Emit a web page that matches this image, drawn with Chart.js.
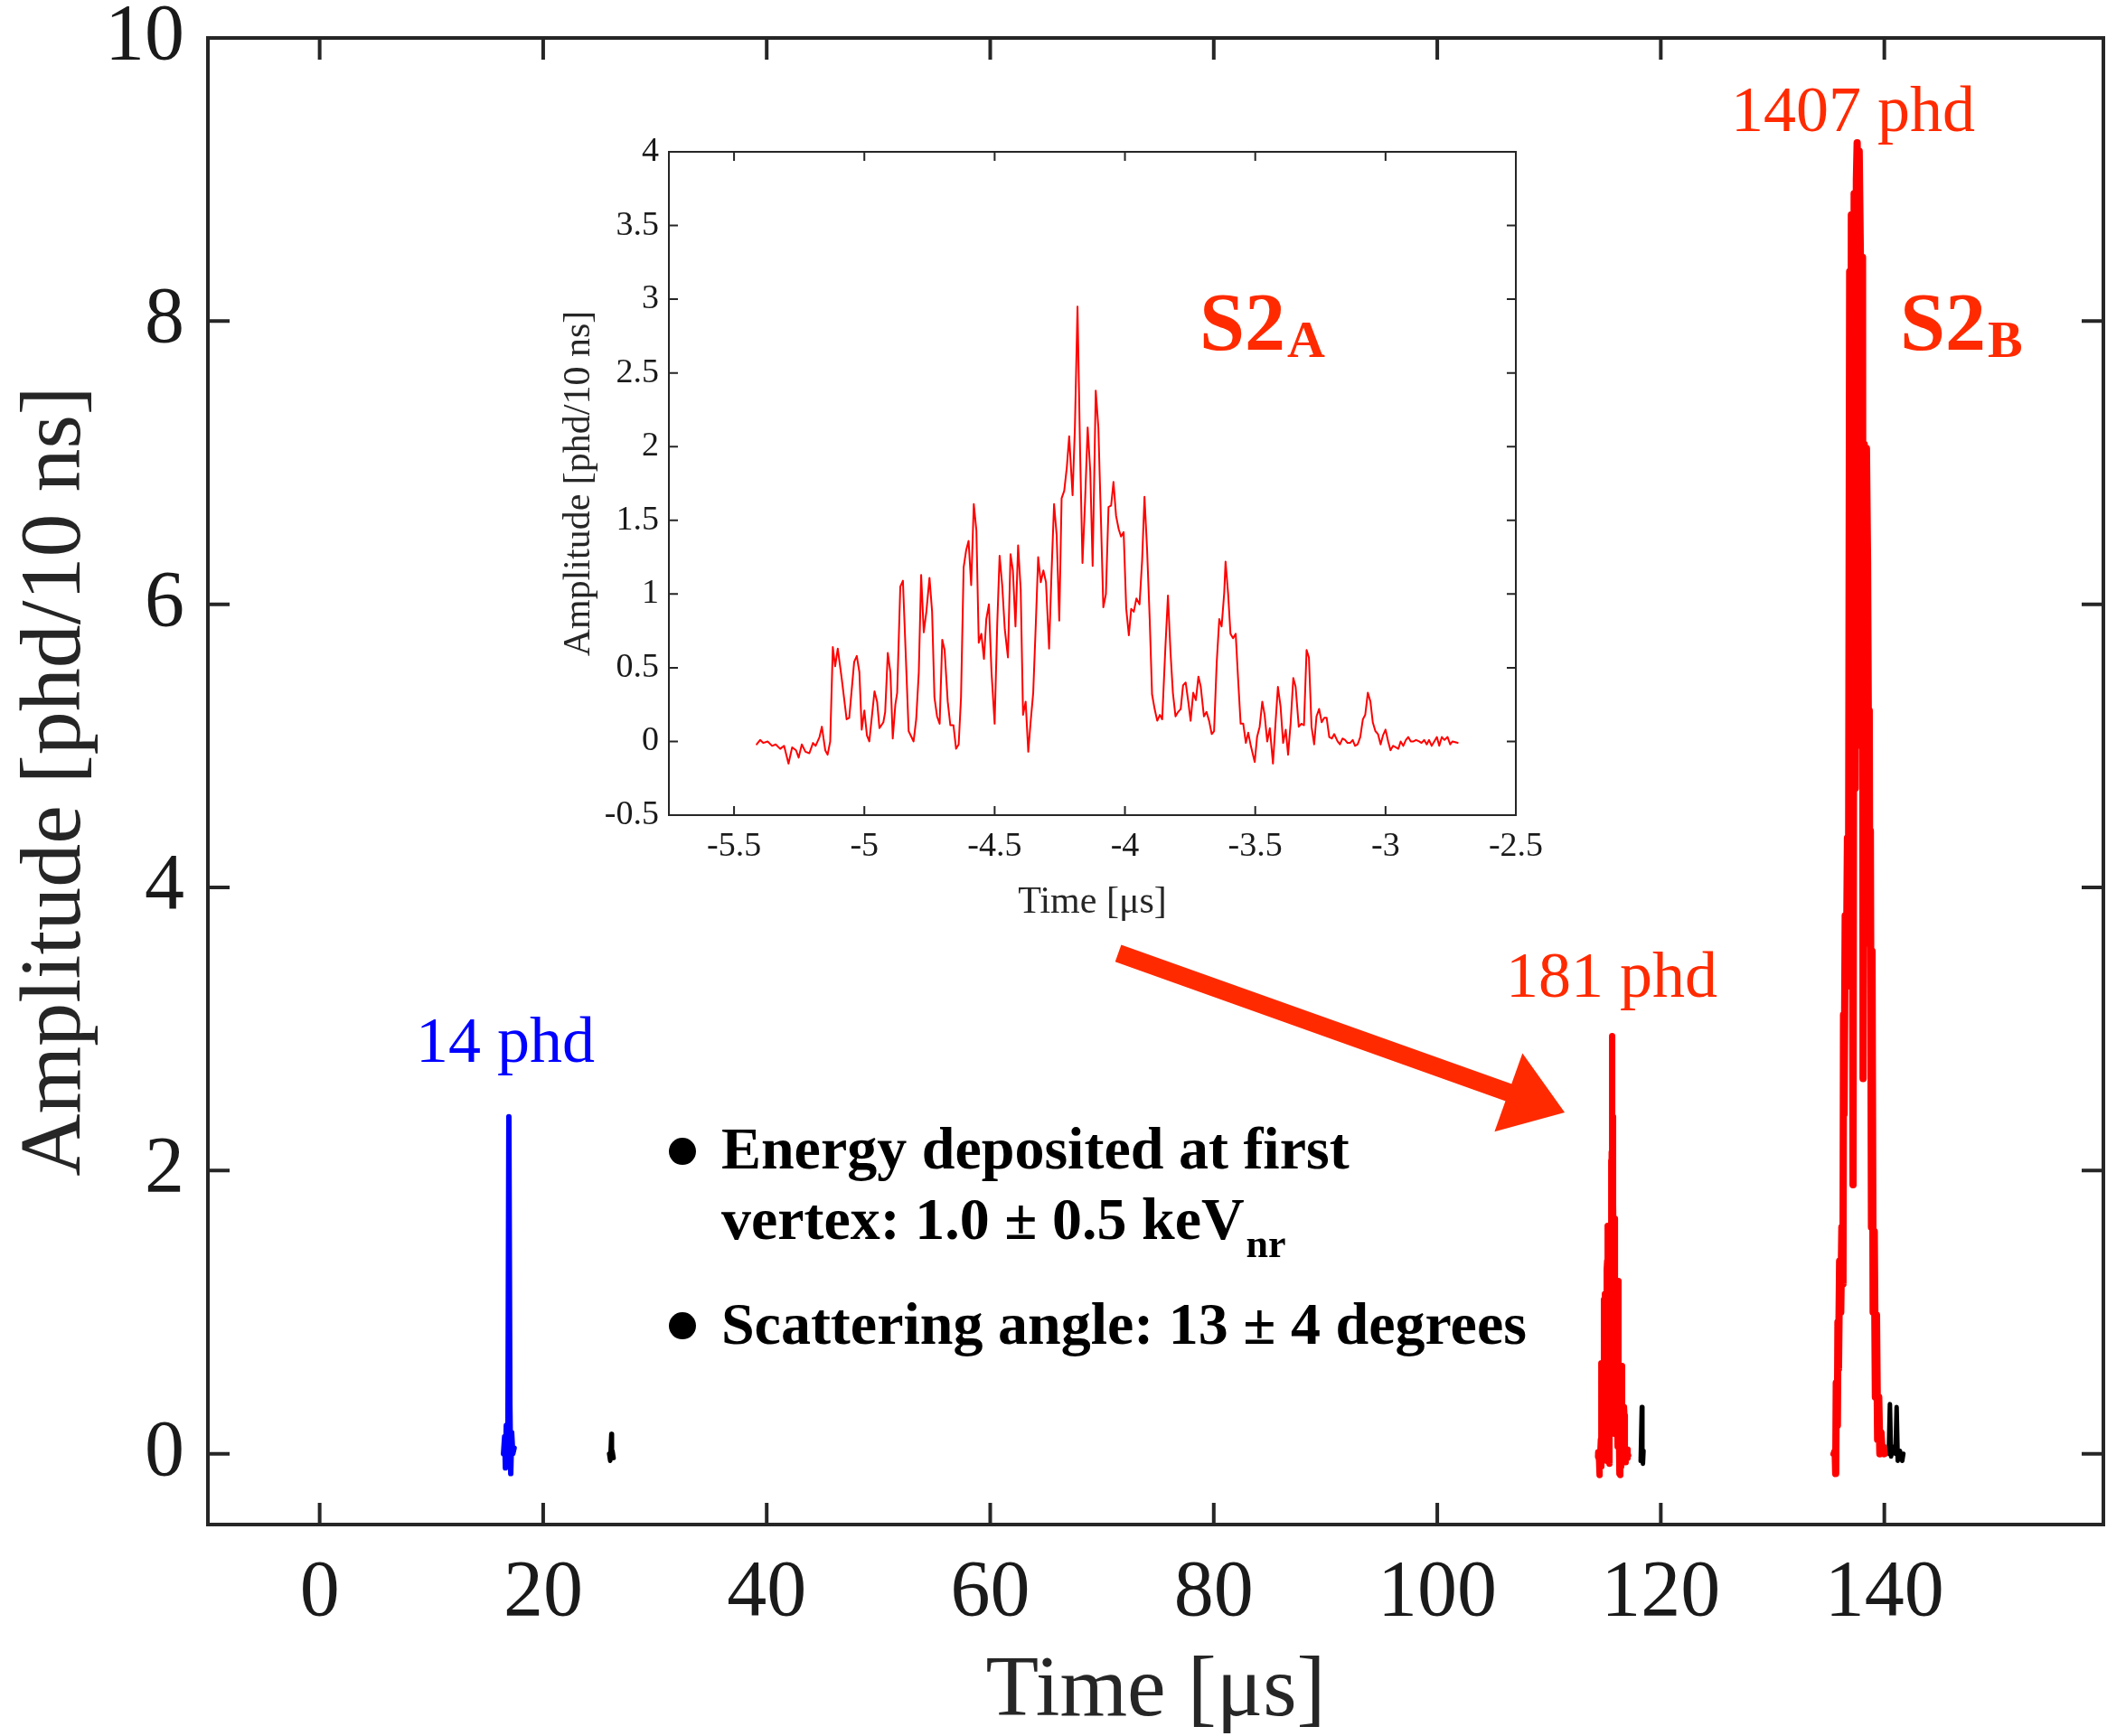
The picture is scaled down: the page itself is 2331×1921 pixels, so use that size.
<!DOCTYPE html>
<html lang="en">
<head>
<meta charset="UTF-8">
<title>S2 waveforms</title>
<script src="https://cdn.jsdelivr.net/npm/chart.js"></script>
<style>
  body { margin: 0; background: #fff; }
  #wrap { position: relative; width: 2331px; height: 1921px; }
  #insetChart { position: absolute; left: 600px; top: 140px; }
</style>
</head>
<body>
<div id="wrap">
  <canvas id="mainChart" width="2331" height="1921"></canvas>
  <canvas id="insetChart" width="1150" height="880"></canvas>
</div>
<script>
// ---- data ----
// inset: S2A waveform, time in us, amplitude in phd/10 ns
const insetTime = [-5.413,-5.400,-5.388,-5.371,-5.354,-5.340,-5.323,-5.308,-5.291,-5.277,-5.262,-5.252,-5.240,-5.226,-5.211,-5.197,-5.187,-5.172,-5.163,-5.150,
  -5.141,-5.131,-5.121,-5.112,-5.102,-5.087,-5.068,-5.058,-5.039,-5.029,-5.019,-5.010,-5.000,-4.990,-4.981,-4.961,-4.951,-4.942,-4.927,-4.920,
  -4.910,-4.900,-4.891,-4.881,-4.874,-4.862,-4.852,-4.842,-4.830,-4.811,-4.801,-4.791,-4.782,-4.772,-4.762,-4.750,-4.740,-4.731,-4.721,-4.711,
  -4.701,-4.692,-4.680,-4.670,-4.658,-4.648,-4.638,-4.629,-4.619,-4.609,-4.600,-4.590,-4.580,-4.570,-4.561,-4.551,-4.541,-4.532,-4.522,-4.512,
  -4.500,-4.490,-4.481,-4.471,-4.461,-4.449,-4.439,-4.430,-4.420,-4.410,-4.400,-4.391,-4.381,-4.371,-4.362,-4.352,-4.342,-4.333,-4.323,-4.313,
  -4.303,-4.291,-4.282,-4.272,-4.262,-4.252,-4.243,-4.233,-4.223,-4.214,-4.201,-4.192,-4.182,-4.172,-4.163,-4.153,-4.143,-4.133,-4.124,-4.112,
  -4.102,-4.092,-4.083,-4.073,-4.063,-4.053,-4.044,-4.034,-4.024,-4.015,-4.005,-3.995,-3.985,-3.976,-3.966,-3.956,-3.944,-3.934,-3.925,-3.915,
  -3.905,-3.896,-3.886,-3.876,-3.866,-3.857,-3.845,-3.835,-3.825,-3.816,-3.806,-3.796,-3.786,-3.777,-3.767,-3.757,-3.748,-3.738,-3.728,-3.718,
  -3.709,-3.697,-3.687,-3.677,-3.667,-3.658,-3.648,-3.638,-3.629,-3.619,-3.614,-3.604,-3.595,-3.585,-3.575,-3.566,-3.556,-3.546,-3.536,-3.527,
  -3.517,-3.502,-3.493,-3.483,-3.473,-3.464,-3.454,-3.444,-3.432,-3.422,-3.413,-3.403,-3.393,-3.383,-3.374,-3.364,-3.354,-3.345,-3.333,-3.323,
  -3.313,-3.303,-3.294,-3.284,-3.274,-3.265,-3.255,-3.245,-3.235,-3.226,-3.216,-3.206,-3.197,-3.184,-3.175,-3.165,-3.155,-3.146,-3.136,-3.126,
  -3.117,-3.107,-3.097,-3.087,-3.078,-3.068,-3.058,-3.049,-3.039,-3.029,-3.019,-3.010,-3.000,-2.990,-2.981,-2.971,-2.961,-2.951,-2.942,-2.932,
  -2.922,-2.913,-2.903,-2.893,-2.883,-2.871,-2.862,-2.852,-2.842,-2.833,-2.823,-2.813,-2.803,-2.794,-2.784,-2.774,-2.762,-2.752,-2.743,-2.723];
const insetAmp = [-0.02,0.01,-0.01,0.00,-0.03,-0.02,-0.05,-0.03,-0.15,-0.04,-0.06,-0.11,-0.02,-0.07,-0.08,-0.01,-0.03,0.03,0.10,-0.06,
  -0.09,0.00,0.64,0.51,0.63,0.43,0.15,0.16,0.54,0.58,0.47,0.08,0.21,0.04,0.00,0.34,0.27,0.09,0.13,0.20,
  0.60,0.47,0.02,0.25,0.33,1.05,1.09,0.63,0.07,0.00,0.15,0.47,1.13,0.74,0.88,1.11,0.88,0.30,0.17,0.12,
  0.69,0.62,0.27,0.11,0.11,-0.05,-0.02,0.30,1.18,1.30,1.36,1.06,1.61,1.43,0.67,0.73,0.56,0.83,0.93,0.47,
  0.12,0.80,1.26,1.06,0.76,0.57,1.27,1.16,0.78,1.33,1.03,0.18,0.27,-0.07,0.13,0.33,0.80,1.25,1.08,1.16,
  1.08,0.63,1.13,1.61,1.40,0.82,1.65,1.70,1.86,2.07,1.67,2.13,2.95,1.96,1.21,1.63,2.13,1.83,1.19,2.38,
  2.13,1.50,0.91,1.00,1.59,1.60,1.76,1.53,1.44,1.39,1.42,0.90,0.72,0.90,0.88,0.97,0.93,1.23,1.66,1.30,
  0.83,0.32,0.22,0.14,0.18,0.15,0.63,0.99,0.60,0.33,0.17,0.20,0.22,0.38,0.40,0.27,0.14,0.33,0.28,0.44,
  0.37,0.17,0.20,0.14,0.05,0.07,0.53,0.83,0.78,1.01,1.22,1.00,0.73,0.70,0.73,0.43,0.12,0.12,-0.01,0.06,
  -0.03,-0.14,0.03,0.10,0.27,0.18,0.00,0.09,-0.15,0.13,0.37,0.24,-0.01,0.08,-0.09,0.13,0.43,0.37,0.10,0.12,
  0.11,0.62,0.57,0.10,-0.02,0.17,0.22,0.13,0.16,0.16,0.03,0.02,0.05,0.00,-0.02,0.02,0.01,-0.01,-0.01,0.01,
  -0.03,-0.02,0.03,0.15,0.18,0.33,0.27,0.13,0.07,0.05,-0.02,0.04,0.08,0.00,-0.06,-0.03,-0.04,-0.05,0.00,-0.03,
  0.01,0.03,0.00,0.00,0.01,0.00,-0.01,0.01,-0.02,0.01,-0.03,0.00,0.03,-0.03,0.03,0.01,0.03,-0.02,0.00,-0.01];
// the same S2A pulse sits at this time in the full trace
const s2aOffset = 119.8;

// S1 pulse (blue)
const s1Time = [16.45,16.55,16.62,16.7,16.78,16.85,16.93,17.02,17.1,17.18,17.28,17.4];
const s1Amp  = [0.00,0.12,-0.10,0.20,0.05,0.25,2.38,0.35,-0.14,0.15,0.00,0.04];

// S2B pulse (red)
const s2bTime = [135.5,135.6,135.65,135.7,135.8,135.85,135.9,136.0,136.1,136.2,136.3,136.35,136.4,136.5,136.6,136.7,136.8,136.9,137.0,137.05,
  137.1,137.2,137.3,137.4,137.5,137.57,137.65,137.75,137.85,137.95,138.05,138.1,138.2,138.3,138.4,138.5,138.6,138.65,138.7,138.75,
  138.85,138.9,139.0,139.1,139.2,139.3,139.4,139.5,139.6,139.7,139.8,139.9,140.0];
const s2bAmp  = [0.00,0.02,-0.14,0.50,0.20,0.93,0.60,1.36,1.00,1.60,1.20,3.10,2.40,3.80,3.30,4.35,4.00,8.35,4.80,8.75,
  6.50,1.90,8.90,4.70,9.00,9.26,7.00,9.20,8.50,5.00,8.45,2.65,7.13,4.50,7.10,6.30,4.60,5.25,3.60,4.40,
  1.60,3.55,1.00,1.57,0.40,0.98,0.10,0.40,0.00,0.15,0.02,0.05,0.00];

// small black pulses (gaps between them)
const otherTime = [25.9,26.0,26.1,26.15,26.2,26.3, null, 118.2,118.3,118.35,118.4,118.45, null, 140.4,140.5,140.6,140.8,141.0,141.1,141.2,141.4,141.6,141.7];
const otherAmp  = [0.00,-0.05,0.14,0.00,0.02,-0.03, null, -0.05,0.33,0.00,-0.07,0.02, null, 0.00,0.35,-0.02,0.05,0.00,0.33,-0.05,0.02,-0.05,0.00];

const mainXTicks = [0, 20, 40, 60, 80, 100, 120, 140];
const mainYTicks = [0, 2, 4, 6, 8, 10];
const insetXTicks = [-5.5, -5, -4.5, -4, -3.5, -3, -2.5];
const insetYTicks = [-0.5, 0, 0.5, 1, 1.5, 2, 2.5, 3, 3.5, 4];

// ---- helpers ----
const SERIF = '"Liberation Serif", "Times New Roman", serif';
const AXIS = '#262626';
const LABEL_RED = '#ff2a00';
Chart.defaults.font.family = SERIF;

function pts(xs, ys, dx = 0) {
  return xs.map((x, i) => ({ x: x === null ? null : x + dx, y: ys[i] }));
}

// MATLAB-style box with inward ticks on all four sides
const boxTicks = {
  id: 'boxTicks',
  afterDraw(chart, args, opts) {
    const { ctx, chartArea: a, scales: { x, y } } = chart;
    ctx.save();
    ctx.strokeStyle = AXIS;
    ctx.lineWidth = opts.width;
    ctx.beginPath();
    x.ticks.forEach(t => {
      const px = x.getPixelForValue(t.value);
      ctx.moveTo(px, a.bottom); ctx.lineTo(px, a.bottom - opts.len);
      ctx.moveTo(px, a.top); ctx.lineTo(px, a.top + opts.len);
    });
    y.ticks.forEach(t => {
      const py = y.getPixelForValue(t.value);
      ctx.moveTo(a.left, py); ctx.lineTo(a.left + opts.len, py);
      ctx.moveTo(a.right, py); ctx.lineTo(a.right - opts.len, py);
    });
    ctx.stroke();
    ctx.strokeRect(a.left, a.top, a.right - a.left, a.bottom - a.top);
    ctx.restore();
  }
};

// text with a subscript tail
function subText(ctx, x, y, main, sub, mainFont, subFont, drop) {
  ctx.font = mainFont;
  ctx.fillText(main, x, y);
  const w = ctx.measureText(main).width;
  ctx.font = subFont;
  ctx.fillText(sub, x + w + 2, y + drop);
}

const mainNotes = {
  id: 'mainNotes',
  afterDatasetsDraw(chart) {
    const { ctx, scales: { x, y } } = chart;
    const X = v => x.getPixelForValue(v), Y = v => y.getPixelForValue(v);
    ctx.save();
    ctx.textBaseline = 'alphabetic';

    // peak labels
    ctx.textAlign = 'center';
    ctx.font = '72px ' + SERIF;
    ctx.fillStyle = '#0000ff';
    ctx.fillText('14 phd', X(16.6), Y(2.77));
    ctx.fillStyle = LABEL_RED;
    ctx.fillText('181 phd', X(115.6), Y(3.23));
    ctx.fillText('1407 phd', X(137.2), Y(9.34));

    ctx.textAlign = 'left';
    subText(ctx, X(141.4), Y(7.8), 'S2', 'B', 'bold 90px ' + SERIF, 'bold 58px ' + SERIF, 8);

    // arrow from the inset to S2A
    const x0 = X(71.45), y0 = Y(3.535), x1 = X(111.4), y1 = Y(2.41);
    const len = Math.hypot(x1 - x0, y1 - y0), ux = (x1 - x0) / len, uy = (y1 - y0) / len;
    const hl = 66, hw = 46;
    const bx = x1 - ux * hl, by = y1 - uy * hl;
    ctx.strokeStyle = LABEL_RED;
    ctx.lineWidth = 20;
    ctx.beginPath(); ctx.moveTo(x0, y0); ctx.lineTo(bx + ux * 4, by + uy * 4); ctx.stroke();
    ctx.beginPath();
    ctx.moveTo(x1, y1);
    ctx.lineTo(bx - uy * hw, by + ux * hw);
    ctx.lineTo(bx + uy * hw, by - ux * hw);
    ctx.closePath(); ctx.fill();

    // bullet notes
    ctx.fillStyle = '#000';
    ctx.beginPath(); ctx.arc(X(32.46), Y(2.136), 15, 0, 2 * Math.PI); ctx.fill();
    ctx.beginPath(); ctx.arc(X(32.46), Y(0.904), 15, 0, 2 * Math.PI); ctx.fill();
    ctx.font = 'bold 66px ' + SERIF;
    ctx.fillText('Energy deposited at first', X(35.93), Y(2.015));
    subText(ctx, X(35.93), Y(1.517), 'vertex: 1.0 \u00b1 0.5 keV', 'nr', 'bold 66px ' + SERIF, 'bold 44px ' + SERIF, 20);
    ctx.font = 'bold 66px ' + SERIF;
    ctx.fillText('Scattering angle: 13 \u00b1 4 degrees', X(35.93), Y(0.776));
    ctx.restore();
  }
};

const insetNotes = {
  id: 'insetNotes',
  afterDatasetsDraw(chart) {
    const { ctx, scales: { x, y } } = chart;
    ctx.save();
    ctx.fillStyle = LABEL_RED;
    ctx.textBaseline = 'alphabetic';
    subText(ctx, x.getPixelForValue(-3.714), y.getPixelForValue(2.66), 'S2', 'A',
      'bold 90px ' + SERIF, 'bold 58px ' + SERIF, 8);
    ctx.restore();
  }
};

function lineSet(data, color, width) {
  return { data, borderColor: color, borderWidth: width, pointRadius: 0,
    borderJoinStyle: 'round', borderCapStyle: 'round', tension: 0, spanGaps: false, fill: false };
}

// fixed axis sizes, no extra room for overhanging labels
const fixX = h => s => { s.height = h; s.paddingLeft = 0; s.paddingRight = 0; };
const fixY = w => s => { s.width = w; s.paddingTop = 0; s.paddingBottom = 0; };

// ---- main chart ----
new Chart(document.getElementById('mainChart'), {
  type: 'line',
  data: {
    datasets: [
      lineSet(pts(insetTime, insetAmp, s2aOffset), '#ff0000', 7),
      lineSet(pts(s2bTime, s2bAmp), '#ff0000', 8),
      lineSet(pts(otherTime, otherAmp), '#000000', 5),
      lineSet(pts(s1Time, s1Amp), '#0000ff', 6)
    ]
  },
  options: {
    responsive: false,
    animation: false,
    devicePixelRatio: 1,
    layout: { padding: { top: 42, right: 4, left: 0, bottom: 0 } },
    plugins: { legend: { display: false }, tooltip: { enabled: false },
      boxTicks: { width: 4, len: 24 } },
    scales: {
      x: {
        type: 'linear', min: -10, max: 159.6,
        afterBuildTicks: s => { s.ticks = mainXTicks.map(v => ({ value: v })); },
        afterFit: fixX(234),
        grid: { display: false, drawTicks: false }, border: { display: false },
        ticks: { color: '#1a1a1a', font: { size: 88 }, padding: 24, maxRotation: 0,
          callback: v => String(v) },
        title: { display: true, text: 'Time [\u03bcs]', color: AXIS,
          font: { size: 96, lineHeight: 1 }, padding: { top: 0, bottom: 0 } }
      },
      y: {
        type: 'linear', min: -0.5, max: 10,
        afterBuildTicks: s => { s.ticks = mainYTicks.map(v => ({ value: v })); },
        afterFit: fixY(230),
        grid: { display: false, drawTicks: false }, border: { display: false },
        ticks: { color: '#1a1a1a', font: { size: 88 }, padding: 26, callback: v => String(v) },
        title: { display: true, text: 'Amplitude [phd/10 ns]', color: AXIS,
          font: { size: 96, lineHeight: 1 }, padding: { top: 15, bottom: 0 } }
      }
    }
  },
  plugins: [boxTicks, mainNotes]
});

// ---- inset chart ----
new Chart(document.getElementById('insetChart'), {
  type: 'line',
  data: { datasets: [lineSet(pts(insetTime, insetAmp), '#ff0000', 2)] },
  options: {
    responsive: false,
    animation: false,
    devicePixelRatio: 1,
    layout: { padding: { top: 28, right: 73, left: 0, bottom: 0 } },
    plugins: { legend: { display: false }, tooltip: { enabled: false },
      boxTicks: { width: 2, len: 10 } },
    scales: {
      x: {
        type: 'linear', min: -5.75, max: -2.5,
        afterBuildTicks: s => { s.ticks = insetXTicks.map(v => ({ value: v })); },
        afterFit: fixX(118),
        grid: { display: false, drawTicks: false }, border: { display: false },
        ticks: { color: '#1a1a1a', font: { size: 38 }, padding: 12, maxRotation: 0,
          callback: v => String(v) },
        title: { display: true, text: 'Time [\u03bcs]', color: AXIS,
          font: { size: 42, lineHeight: 1 }, padding: { top: 13, bottom: 0 } }
      },
      y: {
        type: 'linear', min: -0.5, max: 4,
        afterBuildTicks: s => { s.ticks = insetYTicks.map(v => ({ value: v })); },
        afterFit: fixY(140),
        grid: { display: false, drawTicks: false }, border: { display: false },
        ticks: { color: '#1a1a1a', font: { size: 38 }, padding: 11, callback: v => String(v) },
        title: { display: true, text: 'Amplitude [phd/10 ns]', color: AXIS,
          font: { size: 42, lineHeight: 1 }, padding: { top: 20, bottom: 0 } }
      }
    }
  },
  plugins: [boxTicks, insetNotes]
});
</script>
</body>
</html>
